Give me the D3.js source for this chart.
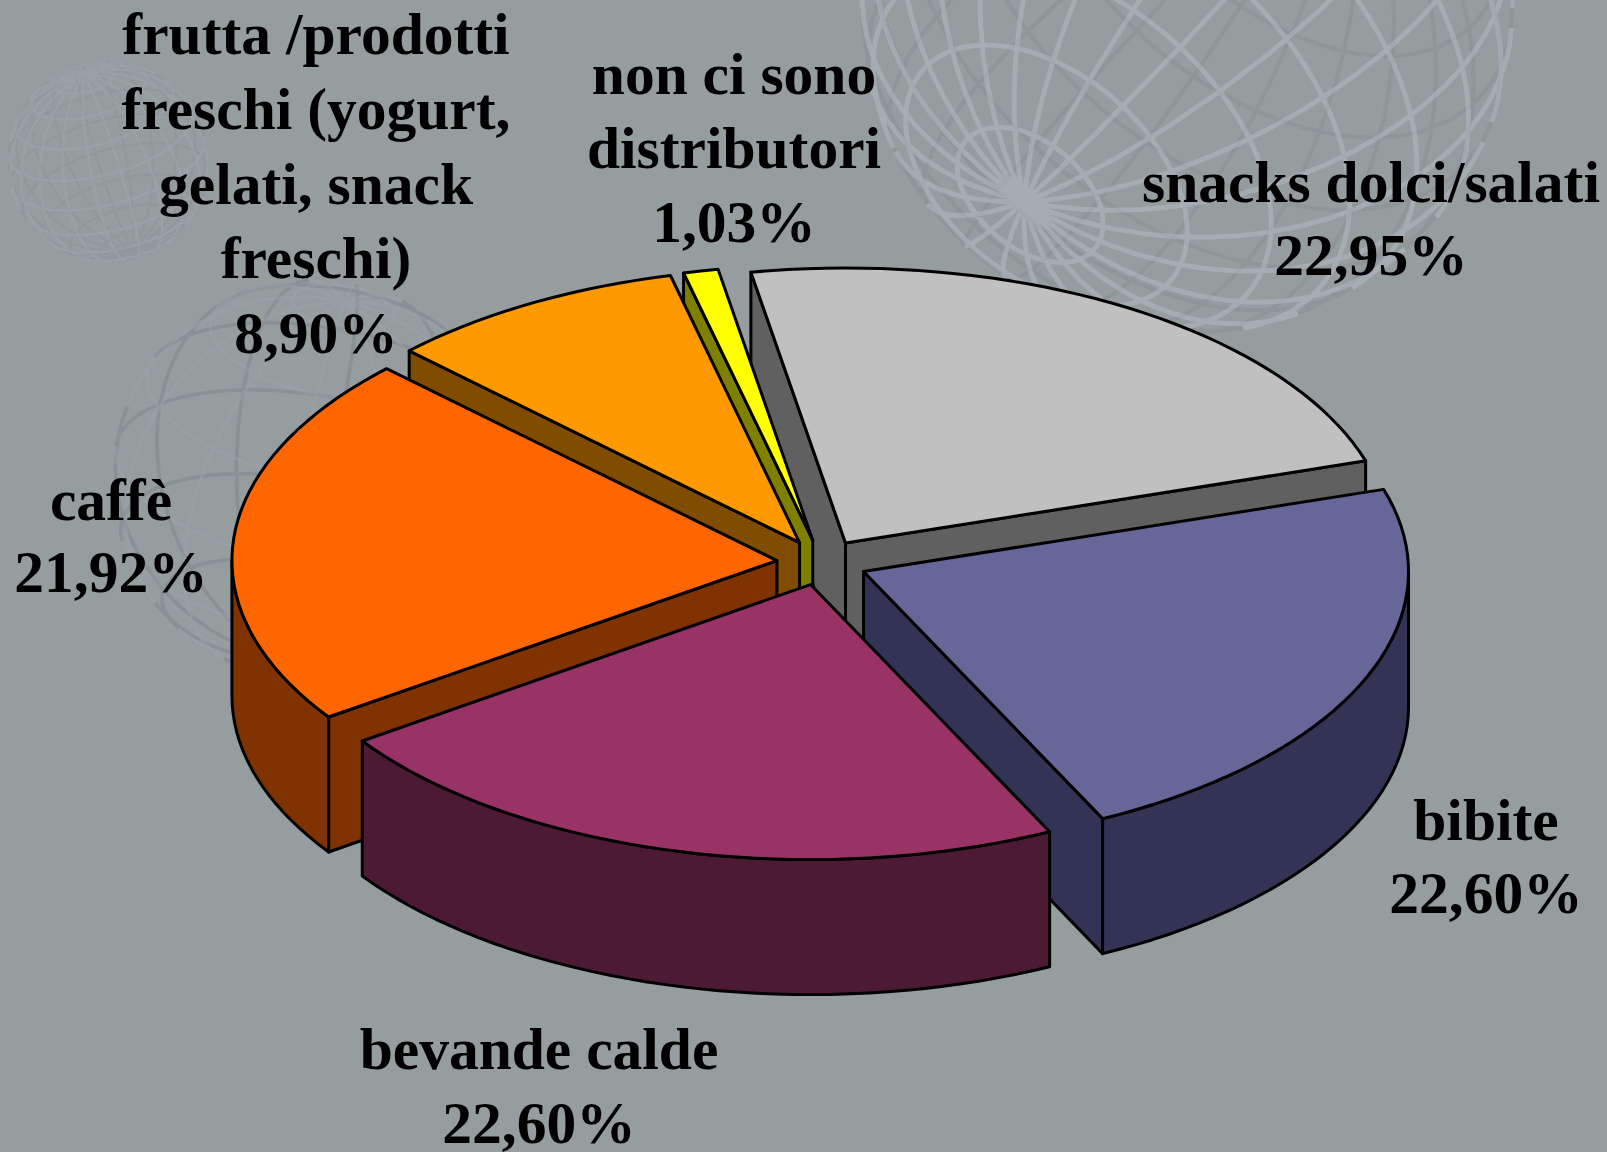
<!DOCTYPE html>
<html><head><meta charset="utf-8">
<script src="https://cdnjs.cloudflare.com/ajax/libs/d3/7.8.5/d3.min.js"></script>
<style>html,body{margin:0;padding:0;background:#959d9e;overflow:hidden}svg{display:block}</style>
</head><body><svg id="c" width="1607" height="1152"></svg>
<script>
const categories = ["snacks dolci/salati","bibite","bevande calde","caffè","frutta /prodotti freschi (yogurt, gelati, snack freschi)","non ci sono distributori"];
const values = [22.95,22.60,22.60,21.92,8.90,1.03];
const valueLabels = ["22,95%","22,60%","22,60%","21,92%","8,90%","1,03%"];
const labelLines = [["snacks dolci/salati"],["bibite"],["bevande calde"],["caffè"],["frutta /prodotti","freschi (yogurt,","gelati, snack","freschi)"],["non ci sono","distributori"]];
const topColors = ["#c0c0c0","#666699","#993366","#ff6600","#ff9900","#ffff00"];
const sideColors = ["#606060","#333355","#4d1a33","#803300","#804d00","#808000"];
const drawOrder = [0,5,4,3,1,2];

// layout
const W=1607,H=1152, cx=822, cy=562.5, rx=545, ry=275, depth=135, explode=0.083;
const labelX=[1371,1486,539,111,316,734];
const labelTop=[202,840,1069,520,54,94];
const lineGap=[72.5,73,74,72,74.8,74];
const fs=59.5;

const svg=d3.select("#c");
svg.append("rect").attr("width",W).attr("height",H).attr("fill","#959d9e");

// background wireframe globes
const globes=[
 {x:1187,y:8,r:325,rot:[10,-39,140],step:[15,15],front:"rgba(182,188,198,.5)",back:"rgba(128,133,142,.3)",wf:5,wb:4},
 {x:108,y:162,r:100,rot:[-30,-25,15],step:[18,18],front:"rgba(175,181,194,.25)",back:"rgba(130,134,146,.22)",wf:2.5,wb:2},
 {x:313,y:480,r:200,rot:[25,-25,-10],step:[30,25],front:"rgba(168,173,188,.25)",back:"rgba(122,127,138,.4)",wf:3,wb:3.5}
];
globes.forEach(g=>{
  const grat=d3.geoGraticule().step(g.step)();
  const pf=d3.geoOrthographic().scale(g.r).translate([g.x,g.y]).rotate(g.rot).clipAngle(90).precision(.5);
  const pb=d3.geoOrthographic().scale(g.r).translate([g.x,g.y]).rotate([g.rot[0]+180,-g.rot[1],-g.rot[2]]).reflectX(true).clipAngle(90).precision(.5);
  svg.append("path").datum(grat).attr("d",d3.geoPath(pb)).attr("fill","none").attr("stroke",g.back).attr("stroke-width",g.wb);
  svg.append("path").datum(grat).attr("d",d3.geoPath(pf)).attr("fill","none").attr("stroke",g.front).attr("stroke-width",g.wf);
});

// pie layout in circle angles, projected onto an ellipse
const deg=Math.PI/180;
const arcs=d3.pie().sort(null).startAngle(-10*deg).endAngle(350*deg)(values);
const sx=d3.scaleLinear().domain([-1,1]).range([-rx,rx]);
const sy=d3.scaleLinear().domain([-1,1]).range([-ry,ry]);
function apex(a){const m=(a.startAngle+a.endAngle)/2;return [cx+explode*sx(Math.sin(m)),cy-explode*sy(Math.cos(m))];}
function rim(a,t,z){const c=apex(a);return [c[0]+sx(Math.sin(t)),c[1]-sy(Math.cos(t))+z];}
function arcPts(a,t0,t1,z){const n=Math.max(2,Math.ceil((t1-t0)/(2*deg)));return d3.range(n+1).map(i=>rim(a,t0+(t1-t0)*i/n,z));}
const line=d3.line();
const closed=p=>line(p)+"Z";
const plot=svg.append("g").attr("stroke","#000").attr("stroke-width",3).attr("stroke-linejoin","round");

drawOrder.forEach(i=>{
  const a=arcs[i], c=apex(a), s=a.startAngle, e=a.endAngle;
  const cd=[c[0],c[1]+depth];
  const g=plot.append("g");
  // radial walls that face the viewer
  const wall=t=>{
    const r=rim(a,t,0), rb=rim(a,t,depth);
    g.append("path").attr("d",closed([c,r,rb,cd])).attr("fill",sideColors[i]);
  };
  if(Math.sin(s)<0) wall(s);
  if(Math.sin(e)>0) wall(e);
  // outer wall: only the part facing the viewer
  const t0=Math.max(s,90*deg), t1=Math.min(e,270*deg);
  if(t1>t0){
    const top=arcPts(a,t0,t1,0), bot=arcPts(a,t0,t1,depth).reverse();
    g.append("path").attr("d",closed(top.concat(bot))).attr("fill",sideColors[i]);
  }
  // top face
  g.append("path").attr("d",closed([c].concat(arcPts(a,s,e,0)))).attr("fill",topColors[i]);
});

// labels
const txt=svg.append("g").attr("font-family","'Liberation Serif','Times New Roman',serif").attr("font-weight","bold").attr("font-size",fs).attr("fill","#000").attr("text-anchor","middle");
categories.forEach((c,i)=>{
  const lines=labelLines[i].concat([valueLabels[i]]);
  lines.forEach((l,j)=>{
    txt.append("text").attr("x",labelX[i]).attr("y",labelTop[i]+j*lineGap[i]).text(l);
  });
});
</script></body></html>
